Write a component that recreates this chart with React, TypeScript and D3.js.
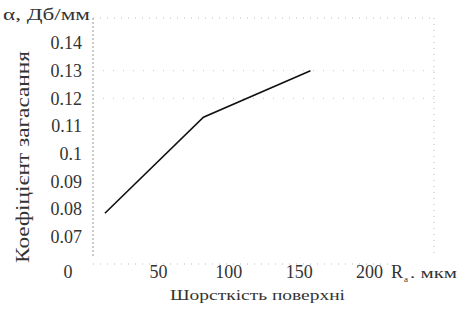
import React from "react";
import * as d3 from "d3";

const roughness = [12, 82, 158];
const attenuation = [0.0785, 0.1132, 0.1300];
const yTicks = [0.07, 0.08, 0.09, 0.1, 0.11, 0.12, 0.13, 0.14];
const yTickLabels = ["0.07", "0.08", "0.09", "0.1", "0.11", "0.12", "0.13", "0.14"];
const xTicks = [0, 50, 100, 150, 200];
const xTickLabels = ["0", "50", "100", "150", "200"];
const gridValues = [0.12, 0.13];

const W = 467, H = 317;
const plotLeft = 93, plotRight = 434, plotTop = 18, plotBottom = 264;

export default function App() {
  const x = d3.scaleLinear().domain([0, 250]).range([88, 440]);
  const y = d3.scaleLinear().domain([0.06, 0.15]).range([264.4, 15.4]);
  const line = d3.line<number>().x((d, i) => x(roughness[i])).y((d) => y(d));
  const font = "Liberation Serif";
  const ink = "#333";
  return (
    <svg width={W} height={H} style={{ position: "absolute", left: 0, top: 0, background: "#fff" }}>
      <line x1={plotLeft} x2={plotRight} y1={plotTop} y2={plotTop} stroke="#bbb" strokeDasharray="1,6" />
      <line x1={plotRight} x2={plotRight} y1={plotTop} y2={plotBottom - 10} stroke="#bbb" strokeDasharray="1,5" />
      <line x1={plotLeft} x2={plotRight - 40} y1={plotBottom} y2={plotBottom} stroke="#bbb" strokeDasharray="1,6" />
      <line x1={plotLeft} x2={plotLeft} y1={plotTop} y2={plotBottom - 6} stroke="#999" strokeDasharray="2,2" />
      {gridValues.map((v) => (
        <line key={v} x1={plotLeft} x2={plotRight} y1={y(v)} y2={y(v)} stroke="#c8c8c8" strokeDasharray="1,9" />
      ))}
      {yTicks.map((v, i) => (
        <text key={v} x={82} y={y(v)} dy="0.35em" textAnchor="end" style={{ fontFamily: font }} fontSize={18} fill={ink}>
          {yTickLabels[i]}
        </text>
      ))}
      {xTicks.map((v, i) => (
        <text key={v} x={v === 0 ? 68 : x(v)} y={278} textAnchor="middle" style={{ fontFamily: font }} fontSize={18} fill={ink}>
          {xTickLabels[i]}
        </text>
      ))}
      <text x={391} y={278} style={{ fontFamily: font }} fontSize={18} fill={ink}>R</text>
      <text x={404} y={282} style={{ fontFamily: font }} fontSize={9} fill={ink}>a</text>
      <text x={410} y={278} textLength={47} lengthAdjust="spacingAndGlyphs" style={{ fontFamily: font }} fontSize={15} fill={ink}>. мкм</text>
      <text x={170} y={300} textLength={175} lengthAdjust="spacingAndGlyphs" style={{ fontFamily: font }} fontSize={15} fill={ink}>Шорсткість поверхні</text>
      <text x={3} y={20} textLength={87} lengthAdjust="spacingAndGlyphs" style={{ fontFamily: font }} fontSize={16} fill={ink}>α, Дб/мм</text>
      <text transform={`translate(29,263) rotate(-90)`} textLength={212} lengthAdjust="spacingAndGlyphs" style={{ fontFamily: font }} fontSize={19} fill={ink}>
        Коефіцієнт загасання
      </text>
      <path d={line(attenuation) || ""} fill="none" stroke="#111" strokeWidth={1.6} />
    </svg>
  );
}
